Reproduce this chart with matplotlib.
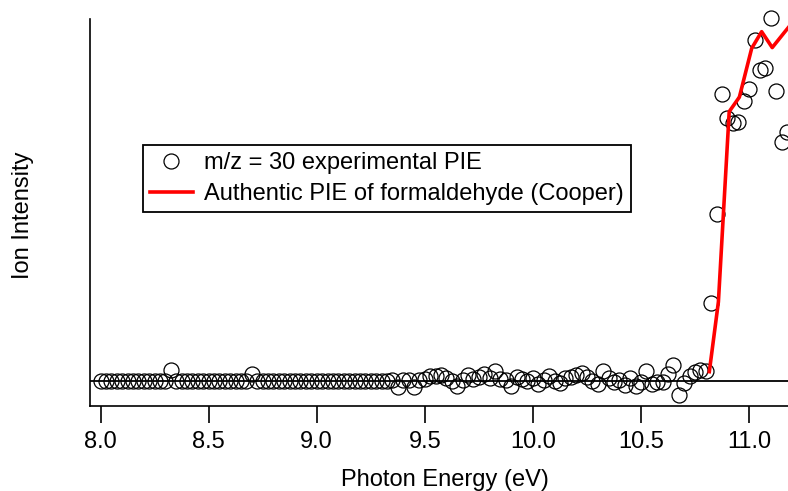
import matplotlib
matplotlib.use("Agg")
import matplotlib.pyplot as plt
import numpy as np

plt.rcParams["font.family"] = ["Liberation Sans", "DejaVu Sans"]

# Photon energy grid of the experimental scan (eV)
energy_start = 8.0
energy_step = 0.025
n_points = 128

# m/z = 30 experimental photoionization efficiency (normalised)
pie_exp = [
    0, 0, 0, 0, 0, 0, 0, 0, 0, 0, 0, 0, 0,
    0.030,
    0, 0, 0, 0, 0, 0, 0, 0, 0, 0, 0, 0, 0, 0,
    0.018,
    0, 0, 0, 0, 0, 0, 0, 0, 0, 0, 0, 0, 0, 0, 0, 0, 0, 0, 0, 0, 0, 0, 0, 0, 0,
    0.002, -0.017, 0.002, 0.002, -0.017, 0.002,
    0.005, 0.013, 0.013, 0.016, 0.007, -0.001, -0.015, 0.002, 0.016, 0.005,
    0.010, 0.018, 0.007, 0.027, 0.005, 0.002, -0.015, 0.010, 0.005, -0.001,
    0.007, -0.009, 0.002, 0.013, -0.001, -0.006, 0.007, 0.010, 0.016, 0.021,
    0.010, -0.001, -0.009, 0.027, 0.007, -0.004, 0.002, -0.012, 0.007, -0.015,
    -0.004, 0.027, -0.009, -0.004, -0.004, 0.018, 0.043, -0.040, -0.006, 0.013,
    0.024, 0.030, 0.028, 0.214, 0.460, 0.792, 0.725, 0.712, 0.716, 0.773,
    0.806, 0.942, 0.859, 0.865, 1.002, 0.802, 0.661, 0.688,
]
energy_exp = np.round(energy_start + energy_step * np.arange(n_points), 3)

# Reference formaldehyde PIE (Cooper)
energy_ref = [10.816, 10.858, 10.908, 10.955, 11.012, 11.058, 11.107, 11.166, 11.20]
pie_ref = [0.025, 0.218, 0.744, 0.784, 0.919, 0.965, 0.921, 0.965, 0.99]

xticks = [8.0, 8.5, 9.0, 9.5, 10.0, 10.5, 11.0]
xtick_labels = ["8.0", "8.5", "9.0", "9.5", "10.0", "10.5", "11.0"]

W, H = 788, 491
fig = plt.figure(figsize=(W / 100, H / 100), dpi=100)
ax = fig.add_axes([90 / W, 1 - 405.7 / H, 709 / W, (405.7 - 19) / H])

ax.axhline(0, color="black", lw=1.3, zorder=1)
ax.plot(energy_exp, pie_exp, linestyle="none", marker="o", markersize=10.8,
        markerfacecolor="none", markeredgecolor="black", markeredgewidth=0.9,
        label="m/z = 30 experimental PIE", zorder=2, clip_on=False)
ax.plot(energy_ref, pie_ref, color="#ff0000", lw=2.6,
        label="Authentic PIE of formaldehyde (Cooper)", zorder=3)

ax.set_xlim(7.9514, 11.2308)
ax.set_ylim(-0.0691, 1.0)

ax.spines["top"].set_visible(False)
ax.spines["right"].set_visible(False)
for s in ("left", "bottom"):
    ax.spines[s].set_linewidth(1.2)

ax.set_xticks(xticks)
ax.set_xticklabels(xtick_labels)
ax.set_yticks([])
ax.tick_params(axis="x", direction="out", length=12, width=1.2, pad=6,
               labelsize=17)

fig.text(444.5 / W, 1 - 480 / H, "Photon Energy (eV)", ha="center",
         va="center", fontsize=17)
fig.text(23 / W, 1 - 215 / H, "Ion Intensity", ha="center", va="center",
         rotation=90, fontsize=17)

leg = ax.legend(loc="upper left", bbox_to_anchor=(143 / W, 1 - 145 / H),
                bbox_transform=fig.transFigure, fontsize=17, frameon=True,
                fancybox=False, shadow=False, framealpha=1,
                edgecolor="black", handlelength=1.8, handletextpad=0.5,
                borderpad=0.3, labelspacing=0.38, borderaxespad=0)
leg.get_frame().set_linewidth(1.3)

fig.savefig("out.png", dpi=100)
